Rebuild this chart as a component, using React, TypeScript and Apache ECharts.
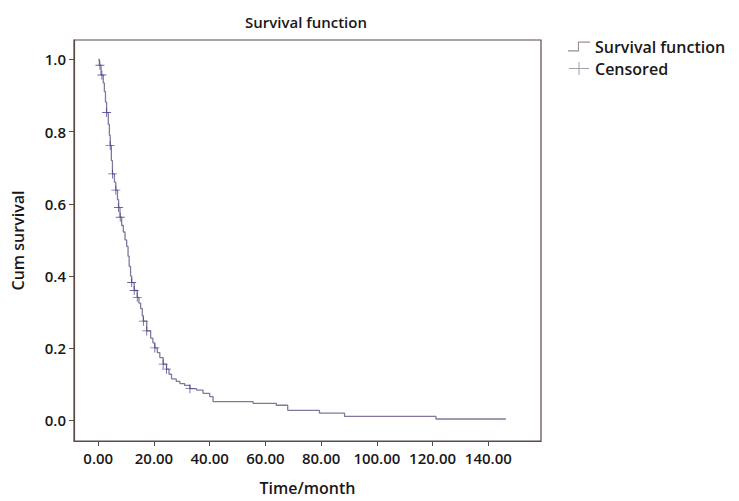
import React, { useEffect, useRef } from "react";
import * as echarts from "echarts";

// Kaplan-Meier step estimates: time (months) at which survival drops, and survival after the drop
const stepTimes = [0, 0.4, 1.0, 1.8, 2.2, 2.6, 3.0, 3.6, 4.0, 4.3, 4.7, 5.1, 5.8, 6.3, 6.9, 7.3, 7.8, 8.4, 9.0, 9.6, 10.2, 10.7, 11.1, 11.6, 12.0, 12.9, 14.0, 14.6, 15.2, 15.8, 16.2, 17.4, 18.8, 19.6, 20.3, 21.2, 22.1, 23.3, 24.5, 25.4, 26.3, 28.0, 29.3, 31.0, 32.9, 35.3, 37.6, 40.0, 41.2, 55.6, 63.9, 68.0, 79.4, 88.4, 121.2];
const stepSurvival = [1.0, 0.984, 0.957, 0.935, 0.911, 0.882, 0.853, 0.82, 0.79, 0.762, 0.72, 0.683, 0.66, 0.638, 0.612, 0.59, 0.563, 0.54, 0.522, 0.5, 0.482, 0.455, 0.427, 0.4, 0.382, 0.36, 0.341, 0.325, 0.31, 0.29, 0.275, 0.248, 0.228, 0.215, 0.201, 0.188, 0.174, 0.156, 0.142, 0.128, 0.115, 0.108, 0.102, 0.097, 0.088, 0.084, 0.075, 0.066, 0.052, 0.047, 0.042, 0.028, 0.02, 0.011, 0.004];
const lastTime = 146.3;

// Censored observations
const censoredTimes = [0.6, 1.3, 3.0, 4.3, 5.1, 6.3, 7.3, 7.9, 12.0, 12.9, 14.0, 16.2, 17.4, 20.3, 23.3, 24.5, 32.9];
const censoredSurvival = [0.984, 0.957, 0.853, 0.762, 0.683, 0.638, 0.59, 0.563, 0.382, 0.36, 0.341, 0.275, 0.248, 0.201, 0.156, 0.142, 0.088];

const xTicks = [0, 20, 40, 60, 80, 100, 120, 140];
const yTicks = [0, 0.2, 0.4, 0.6, 0.8, 1.0];

const FONT = "Open Sans";
const TEXT = "#1a1718";
const FRAME = "#5b4b44";

export default function App() {
  const ref = useRef<HTMLDivElement>(null);

  useEffect(() => {
    document.body.style.margin = "0";
    if (!ref.current) return;
    const chart = echarts.init(ref.current, undefined, { renderer: "svg" });

    const stepPts: number[][] = [];
    for (let i = 0; i < stepTimes.length; i++) {
      if (i > 0) stepPts.push([stepTimes[i], stepSurvival[i - 1]]);
      stepPts.push([stepTimes[i], stepSurvival[i]]);
    }
    stepPts.push([lastTime, stepSurvival[stepSurvival.length - 1]]);

    const censPts = censoredTimes.map((t, i) => [t, censoredSurvival[i]]);

    const stepIcon = "path://M0,10 h9 v-8 h11 v1 h-10 v8 h-10 z";
    const crossIcon = "path://M0,6 h20 v1 h-20 z M9.5,0 h1 v13 h-1 z";
    const censSymbol = "path://M0,4.5 h10 v1 h-10 z M4.5,0 h1 v10 h-1 z";

    chart.setOption({
      animation: false,
      backgroundColor: "#ffffff",
      textStyle: { fontFamily: FONT },
      title: {
        text: "Survival function",
        left: 240,
        top: 9,
        textStyle: { fontFamily: FONT, fontSize: 15, fontWeight: 600, color: TEXT },
      },
      legend: {
        left: 563,
        top: 33,
        orient: "vertical",
        itemGap: 5,
        itemWidth: 22,
        itemHeight: 13,
        textStyle: { fontFamily: FONT, fontSize: 16, fontWeight: 600, color: TEXT, lineHeight: 17 },
        data: [
          { name: "Survival function", icon: stepIcon, itemStyle: { color: "#9a8c9c" } },
          { name: "Censored", icon: crossIcon, itemStyle: { color: "#8f8494" } },
        ],
      },
      grid: {
        left: 74,
        right: 198,
        top: 40,
        bottom: 51,
        show: true,
        borderColor: FRAME,
        borderWidth: 1.2,
        backgroundColor: "#ffffff",
      },
      xAxis: {
        type: "value",
        min: -8.7,
        max: 158.9,
        name: "Time/month",
        nameLocation: "middle",
        nameGap: 39,
        nameTextStyle: { fontFamily: FONT, fontSize: 16, fontWeight: 600, color: TEXT },
        axisLine: { show: true, onZero: false, lineStyle: { color: FRAME, width: 1.2 } },
        axisTick: { show: true, length: 5, customValues: xTicks, lineStyle: { color: FRAME } },
        axisLabel: {
          customValues: xTicks,
          formatter: (v: number) => v.toFixed(2),
          fontFamily: FONT,
          fontSize: 15,
          fontWeight: 600,
          color: TEXT,
          margin: 9,
        },
        splitLine: { show: false },
      },
      yAxis: {
        type: "value",
        min: -0.057,
        max: 1.054,
        name: "Cum survival",
        nameLocation: "middle",
        nameGap: 48,
        nameTextStyle: { fontFamily: FONT, fontSize: 16, fontWeight: 600, color: TEXT },
        axisLine: { show: true, onZero: false, lineStyle: { color: FRAME, width: 1.2 } },
        axisTick: { show: true, length: 5, customValues: yTicks, lineStyle: { color: FRAME } },
        axisLabel: {
          customValues: yTicks,
          formatter: (v: number) => v.toFixed(1),
          fontFamily: FONT,
          fontSize: 15,
          fontWeight: 600,
          color: TEXT,
          margin: 8,
        },
        splitLine: { show: false },
      },
      series: [
        {
          name: "Survival function",
          type: "line",
          data: stepPts,
          showSymbol: false,
          symbol: "none",
          lineStyle: { color: "#85779b", width: 1.3 },
          itemStyle: { color: "#85779b" },
          z: 2,
        },
        {
          name: "Censored",
          type: "scatter",
          data: censPts,
          symbol: censSymbol,
          symbolSize: 9,
          itemStyle: { color: "#4b3f8e" },
          z: 3,
        },
      ],
    });

    return () => chart.dispose();
  }, []);

  return <div ref={ref} style={{ width: 739, height: 501 }} />;
}
